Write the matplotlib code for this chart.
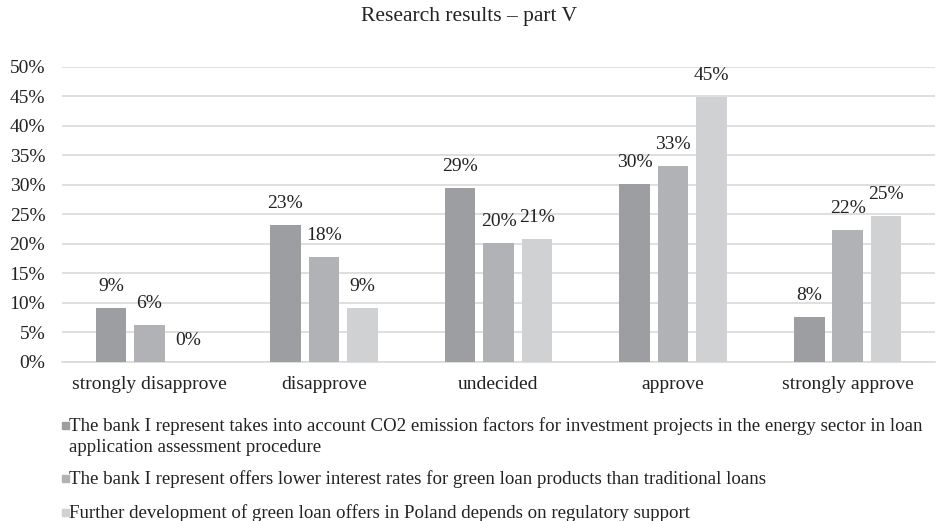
import matplotlib
matplotlib.use("Agg")
import matplotlib.pyplot as plt
import numpy as np
from matplotlib.patches import Rectangle

plt.rcParams['font.family'] = ['Liberation Serif', 'DejaVu Serif']

title = "Research results – part V"
categories = ["strongly disapprove", "disapprove", "undecided", "approve", "strongly approve"]
series_names = [
    "The bank I represent takes into account CO2 emission factors for investment projects in the energy sector in loan\napplication assessment procedure",
    "The bank I represent offers lower interest rates for green loan products than traditional loans",
    "Further development of green loan offers in Poland depends on regulatory support",
]
values_s1 = [9.2, 23.2, 29.4, 30.2, 7.6]
values_s2 = [6.2, 17.8, 20.1, 33.2, 22.4]
values_s3 = [0.0, 9.2, 20.9, 44.9, 24.7]
labels_s1 = ["9%", "23%", "29%", "30%", "8%"]
labels_s2 = ["6%", "18%", "20%", "33%", "22%"]
labels_s3 = ["0%", "9%", "21%", "45%", "25%"]
colors = ["#9d9ea2", "#b1b2b5", "#d0d1d3"]

W, H = 938, 521
fig = plt.figure(figsize=(W/100, H/100), dpi=100)
ax = fig.add_axes([62/W, 1-362/H, (935-62)/W, (362-66.7)/H])

x = np.arange(len(categories))
bw = 0.175
gap = 0.045
series = [values_s1, values_s2, values_s3]
labels = [labels_s1, labels_s2, labels_s3]
for i, (vals, labs, c) in enumerate(zip(series, labels, colors)):
    pos = x + (i - 1) * (bw + gap)
    ax.bar(pos, vals, width=bw, color=c, zorder=3)
    for p, v, lab in zip(pos, vals, labs):
        ax.text(p, v + 2.2, lab, ha='center', va='bottom', fontsize=14, color='#222222')

ax.set_ylim(0, 50)
ax.set_xlim(-0.5, len(categories) - 0.5)
ax.set_yticks(np.arange(0, 51, 5))
ax.set_yticklabels([f"{t}%" for t in range(0, 51, 5)], fontsize=14, color='#222222')
ax.set_xticks(x)
ax.set_xticklabels(categories, fontsize=14, color='#222222')
ax.grid(axis='y', color='#d9d9d9', linewidth=1.2, zorder=0)
for s in ['top', 'right', 'left']:
    ax.spines[s].set_visible(False)
ax.spines['bottom'].set_color('#d9d9d9')
ax.spines['bottom'].set_linewidth(1.2)
ax.tick_params(axis='y', length=0, pad=12)
ax.tick_params(axis='x', length=0, pad=10)

fig.text(0.5, 1 - 16/H, title, ha='center', va='center', fontsize=15.5, color='#222222')

# legend
leg_y = [425, 478, 512]
for name, c, yy in zip(series_names, colors, leg_y):
    fig.patches.append(Rectangle((62/W, 1 - (yy + 4)/H), 7/W, 7/H, transform=fig.transFigure,
                                 color=c, figure=fig))
    fig.text(69/W, 1 - (yy - 8)/H, name, ha='left', va='top', fontsize=13.6,
             color='#222222', linespacing=1.35)

fig.savefig("out.png", dpi=100)
